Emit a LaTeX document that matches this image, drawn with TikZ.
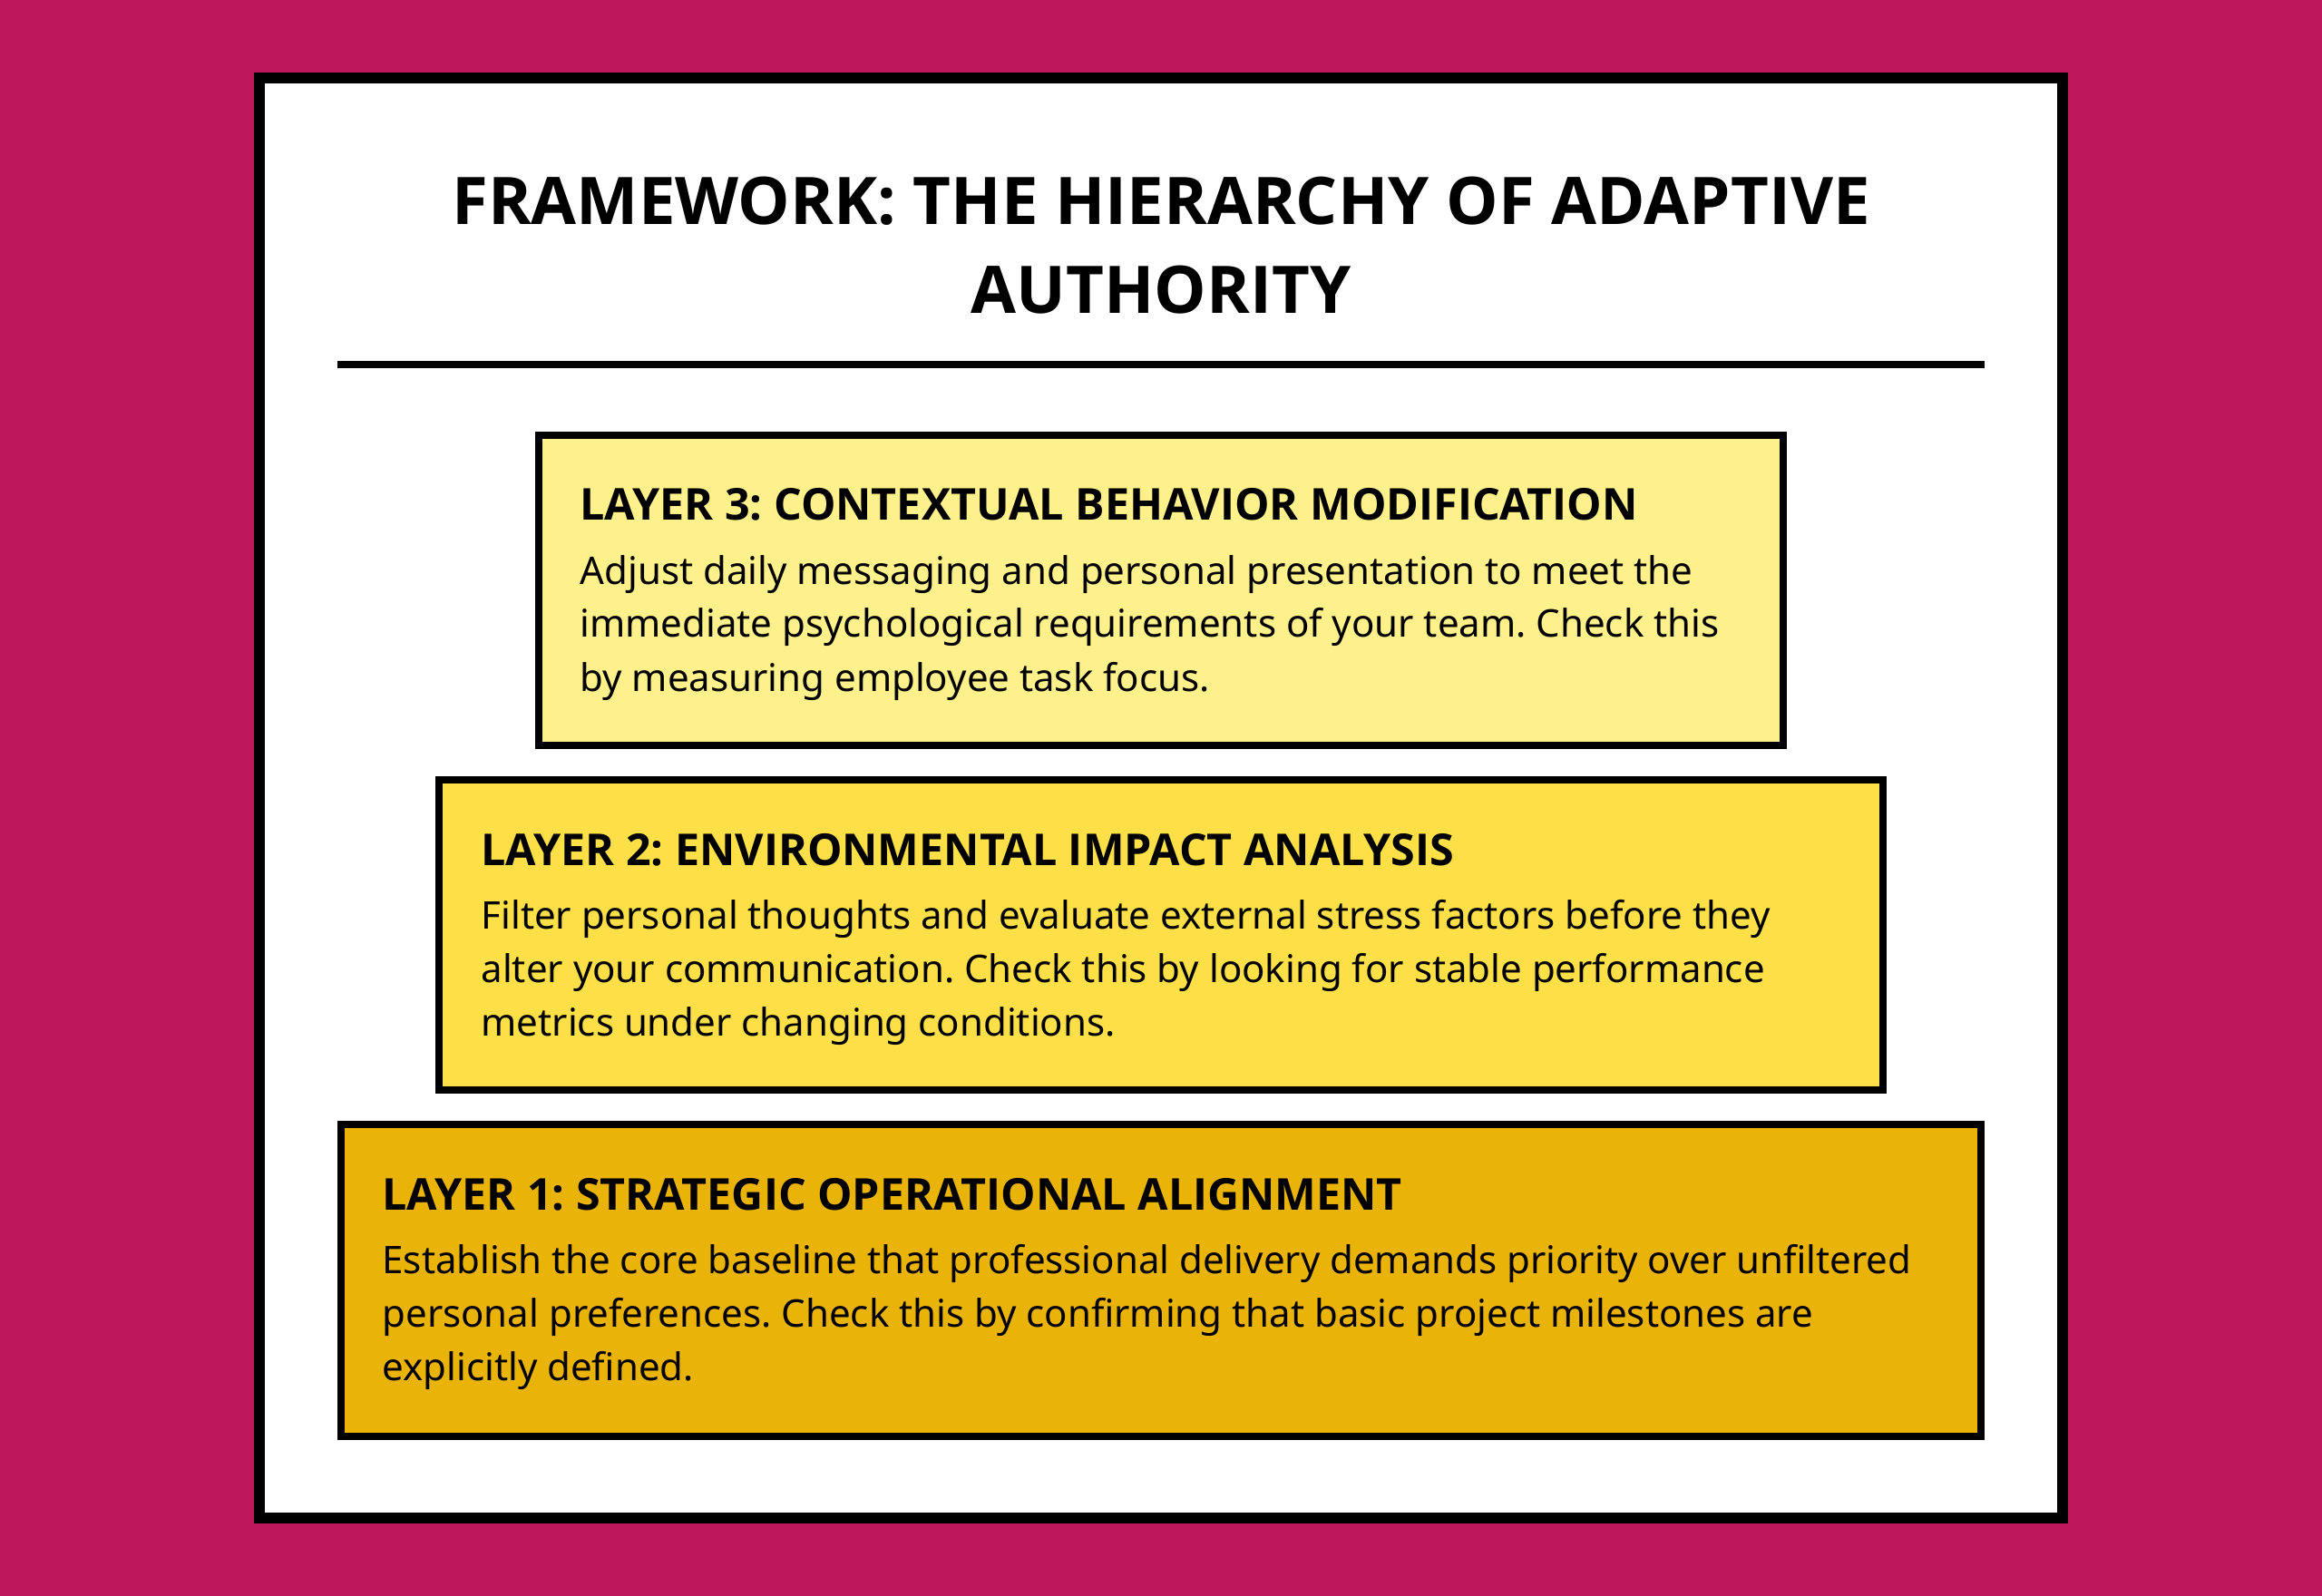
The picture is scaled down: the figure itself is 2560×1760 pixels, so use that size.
\documentclass[tikz,border=0pt]{standalone}
\usepackage{fontspec}
\setmainfont{Noto Sans}
\newfontfamily\headfont{Open Sans}
\frenchspacing
\definecolor{bgpink}{HTML}{BE185D}
\definecolor{ylight}{HTML}{FEF08A}
\definecolor{ymid}{HTML}{FDE047}
\definecolor{ydark}{HTML}{EAB308}
\tikzset{
  layerbox/.style={draw=black, line width=3pt},
  headtext/.style={anchor=base west, inner sep=0pt, font=\headfont\fontsize{18.15}{22}\selectfont\bfseries},
  bodytext/.style={anchor=base west, inner sep=0pt},
}
\newcommand{\bodypar}[1]{\parbox[t]{720pt}{\fontsize{15.75}{22.125}\selectfont #1}}
\begin{document}
\begin{tikzpicture}[x=0.375pt, y=-0.375pt]
  \fill[bgpink] (0,0) rectangle (2560,1760);
  \useasboundingbox (0,0) rectangle (2560,1760);
  \draw[fill=white, line width=4.5pt] (286,86) rectangle (2274,1674);
  % title
  \node[anchor=base, inner sep=0pt] (title) at (1280,248)
    {\parbox[t]{900pt}{\centering\headfont\fontsize{27.15}{36.75}\selectfont\bfseries FRAMEWORK: THE HIERARCHY OF ADAPTIVE\\AUTHORITY}};
  \coordinate (ruleL) at (372,402);
  \coordinate (ruleR) at (2188,402);
  \draw[line width=3pt] (ruleL) -- (ruleR);
  % layer 3
  \draw[layerbox, fill=ylight] (594,480) rectangle (1966,822);
  \node[headtext] (h3) at (639,574) {LAYER 3: CONTEXTUAL BEHAVIOR MODIFICATION};
  \node[bodytext] (b3) at (639,644) {\bodypar{Adjust daily messaging and personal presentation to meet the\\immediate psychological requirements of your team. Check this\\by measuring employee task focus.}};
  % layer 2
  \draw[layerbox, fill=ymid] (484,860) rectangle (2076,1202);
  \node[headtext] (h2) at (530,954) {LAYER 2: ENVIRONMENTAL IMPACT ANALYSIS};
  \node[bodytext] (b2) at (530,1024) {\bodypar{Filter personal thoughts and evaluate external stress factors before they\\alter your communication. Check this by looking for stable performance\\metrics under changing conditions.}};
  % layer 1
  \draw[layerbox, fill=ydark] (376,1240) rectangle (2184,1584);
  \node[headtext] (h1) at (421,1334) {LAYER 1: STRATEGIC OPERATIONAL ALIGNMENT};
  \node[bodytext] (b1) at (421,1404) {\bodypar{Establish the core baseline that professional delivery demands priority over unfiltered\\personal preferences. Check this by confirming that basic project milestones are\\explicitly defined.}};
\end{tikzpicture}
\end{document}
